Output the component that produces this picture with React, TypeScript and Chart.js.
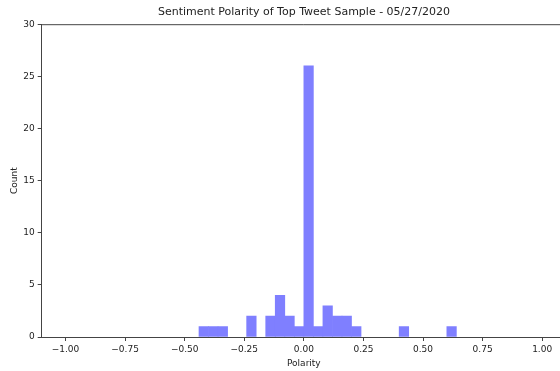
import React, { useEffect, useRef } from "react";
import { Chart, registerables } from "chart.js";

Chart.register(...registerables);

// Histogram bins (lower edge) and their counts
const binStarts = [-0.44, -0.4, -0.36, -0.24, -0.16, -0.12, -0.08, -0.04, 0.0, 0.04, 0.08, 0.12, 0.16, 0.2, 0.4, 0.6];
const counts = [1, 1, 1, 2, 2, 4, 2, 1, 26, 1, 3, 2, 2, 1, 1, 1];
const binWidth = 0.04;

const xTickValues = [-1, -0.75, -0.5, -0.25, 0, 0.25, 0.5, 0.75, 1];
const yTickValues = [0, 5, 10, 15, 20, 25, 30];
const xRange = [-1.1, 1.1];

const titleText = "Sentiment Polarity of Top Tweet Sample - 05/27/2020";
const xTitle = "Polarity";
const yTitle = "Count";

const FONT = "'DejaVu Sans', sans-serif";
const INK = "#222";
const SPINE = "#444";
const BAR = "#7f7fff";

export default function App() {
  const ref = useRef<HTMLCanvasElement | null>(null);

  useEffect(() => {
    if (!ref.current) return;
    const framePlugin = {
      id: "frame",
      afterDraw(chart: any) {
        const { ctx, chartArea } = chart;
        ctx.save();
        ctx.strokeStyle = SPINE;
        ctx.lineWidth = 1;
        ctx.beginPath();
        ctx.moveTo(chartArea.left, chartArea.top + 0.5);
        ctx.lineTo(chartArea.right, chartArea.top + 0.5);
        ctx.lineTo(chartArea.right, chartArea.bottom);
        ctx.stroke();
        ctx.restore();
      },
    };

    const fmt = (v: number) => (v < 0 ? "\u2212" + Math.abs(v).toFixed(2) : v.toFixed(2));

    const chart = new Chart(ref.current, {
      type: "bar",
      data: {
        datasets: [
          {
            data: binStarts.map((s, i) => ({ x: s + binWidth / 2, y: counts[i] })),
            backgroundColor: BAR,
            borderWidth: 0,
            barPercentage: 1,
            categoryPercentage: 1,
          },
        ],
      },
      options: {
        animation: false,
        responsive: false,
        maintainAspectRatio: false,
        layout: { padding: 0 },
        plugins: {
          legend: { display: false },
          tooltip: { enabled: false },
          title: {
            display: true,
            text: titleText,
            color: INK,
            font: { family: FONT, size: 11, weight: "normal" },
            padding: { top: 6, bottom: 5 },
          },
        },
        scales: {
          x: {
            type: "linear",
            min: xRange[0],
            max: xRange[1],
            offset: false,
            afterBuildTicks: (scale: any) => {
              scale.ticks = xTickValues.map((v) => ({ value: v }));
            },
            afterFit: (scale: any) => {
              scale.height = 34;
            },
            ticks: {
              color: INK,
              font: { family: FONT, size: 9 },
              padding: 3,
              maxRotation: 0,
              autoSkip: false,
              callback: (v: any) => fmt(Number(v)),
            },
            grid: { drawOnChartArea: false, drawTicks: true, tickLength: 4, color: SPINE, offset: false },
            border: { display: true, color: SPINE, width: 1 },
            title: { display: true, text: xTitle, color: INK, font: { family: FONT, size: 9 }, padding: { top: 1, bottom: 2 } },
          },
          y: {
            type: "linear",
            min: 0,
            max: 30,
            afterBuildTicks: (scale: any) => {
              scale.ticks = yTickValues.map((v) => ({ value: v }));
            },
            afterFit: (scale: any) => {
              scale.width = 41.7;
            },
            ticks: {
              color: INK,
              font: { family: FONT, size: 9 },
              padding: 3,
              callback: (v: any) => String(v),
            },
            grid: { drawOnChartArea: false, drawTicks: true, tickLength: 4, color: SPINE },
            border: { display: true, color: SPINE, width: 1 },
            title: { display: true, text: yTitle, color: INK, font: { family: FONT, size: 9 }, padding: { top: 9, bottom: 0 } },
          },
          yRight: {
            type: "linear",
            position: "right",
            min: 0,
            max: 30,
            afterFit: (scale: any) => {
              scale.width = 42;
            },
            ticks: { display: false },
            grid: { display: false },
            border: { display: false },
          },
        },
      },
      plugins: [framePlugin],
    } as any);
    return () => chart.destroy();
  }, []);

  return (
    <div style={{ position: "fixed", left: 0, top: 0, width: 608, height: 371, background: "#fff" }}>
      <canvas ref={ref} width={608} height={371} style={{ width: 608, height: 371, display: "block" }} />
    </div>
  );
}
